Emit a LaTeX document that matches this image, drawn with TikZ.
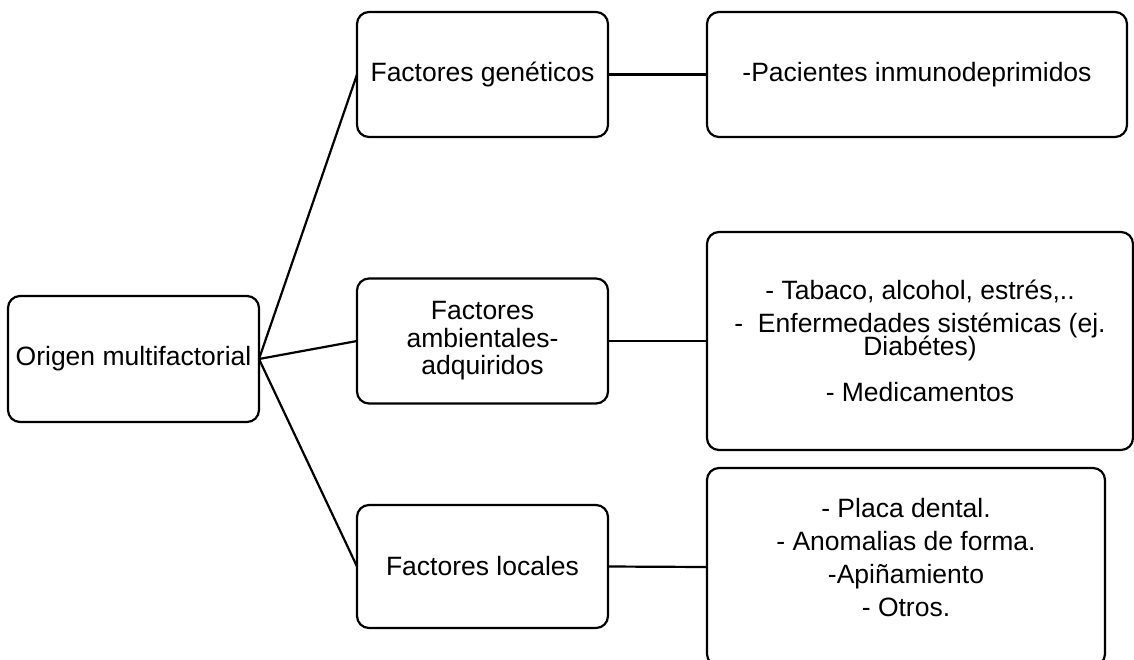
\documentclass[tikz,border=0pt]{standalone}
\usepackage{fontspec}
\setmainfont{Liberation Sans}
\begin{document}
\begin{tikzpicture}[x=1pt,y=-1pt,
  box/.style={draw, line width=2.2pt, rounded corners=12pt, inner sep=0pt,
    outer sep=0pt, align=center},
  txt/.style={font={\fontsize{26.5}{#1}\selectfont\lineskiplimit=-100pt}},
  txt/.default=27.5,
  link/.style={line width=2.2pt}]
\useasboundingbox (0,0) rectangle (1134,659);

% root
\node[box, txt, minimum width=251pt, minimum height=126pt] (orig) at (133.5,359)
  {Origen multifactorial};

% middle column
\node[box, txt, minimum width=251pt, minimum height=125pt] (gen) at (482.5,74.5)
  {Factores genéticos};
\node[box, txt, minimum width=251pt, minimum height=125pt] (amb) at (482.5,341)
  {Factores\\ambientales-\\adquiridos\rule[-4pt]{0pt}{4pt}};
\node[box, txt, minimum width=251pt, minimum height=123pt] (loc) at (482.5,566.5)
  {Factores locales};

% right column
\node[box, txt, minimum width=420pt, minimum height=125pt] (pac) at (917,74.5)
  {-Pacientes inmunodeprimidos};
\node[box, txt=23, minimum width=426pt, minimum height=218pt] (amb2) at (920,341)
  {- Tabaco, alcohol, estrés,..\\[10pt]
   -\ \ Enfermedades sistémicas (ej.\\
   Diabétes)\\[23pt]
   - Medicamentos};
\node[box, txt=33, minimum width=398pt, minimum height=198pt] (loc2) at (906,567)
  {- Placa dental.\\
   - Anomalias de forma.\\
   -Apiñamiento\\
   - Otros.\rule[-19pt]{0pt}{19pt}};

% connectors
\draw[link] (orig.east) -- (gen.west);
\draw[link] (orig.east) -- (amb.west);
\draw[link] (orig.east) -- (loc.west);
\draw[link] (gen.east) -- (pac.west);
\draw[link] (amb.east) -- (amb2.west);
\draw[link] (loc.east) -- (loc2.west);
\end{tikzpicture}
\end{document}
